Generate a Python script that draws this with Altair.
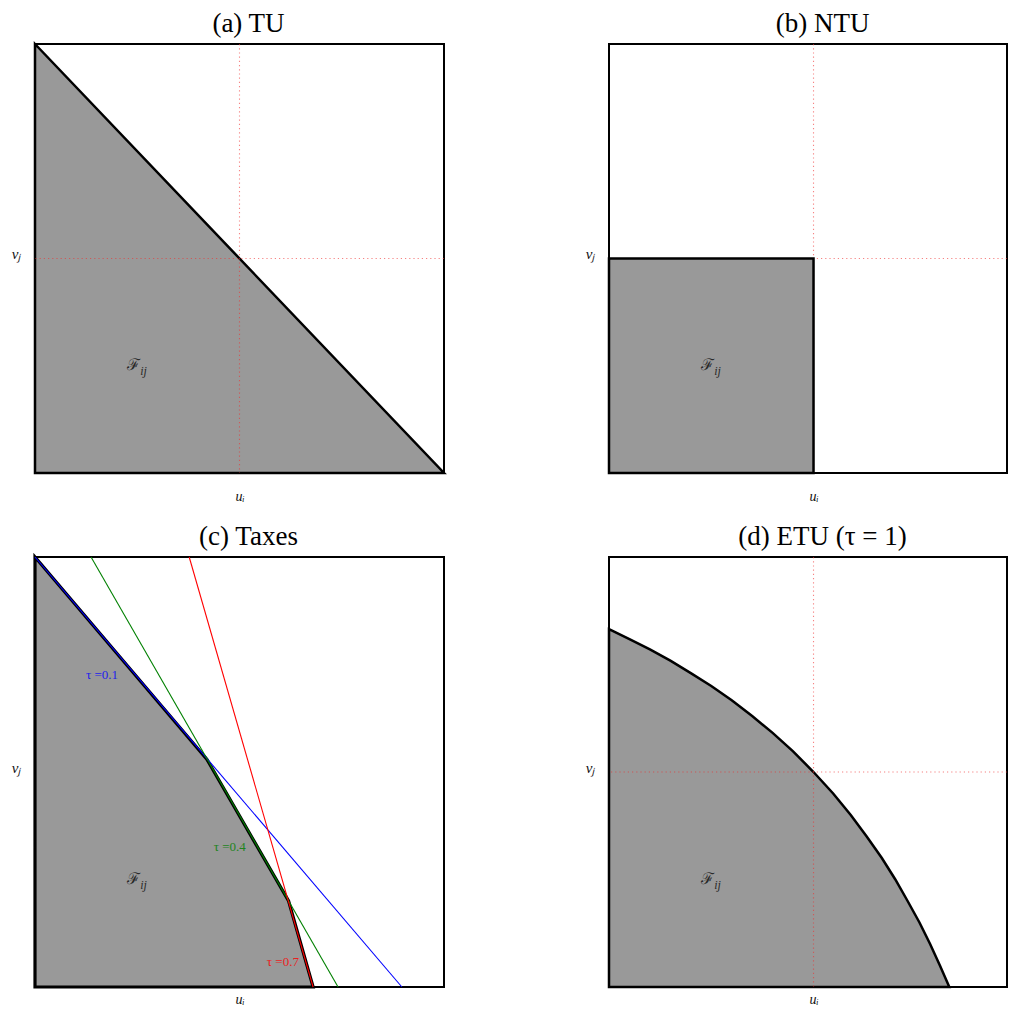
import altair as alt
import pandas as pd

# ---------------- data ----------------
titles = ["(a) TU", "(b) NTU", "(c) Taxes", "(d) ETU (τ = 1)"]

# (a) TU frontier
tu_u = [0.0, 1.0]
tu_v = [1.0, 0.0]

# (b) NTU feasible box
ntu_u = [0.0, 0.5]
ntu_v = [0.5, 0.5]

# (c) Taxes: kinked frontier and the three tax lines
tax_u = [0.0, 0.42, 0.62, 0.68]
tax_v = [1.0, 0.53, 0.20, 0.0]
tau_names = ["τ =0.1", "τ =0.4", "τ =0.7"]
tau_colors = ["#0000ff", "#008000", "#ff0000"]
tau_u_top = [0.0, 0.137, 0.377]
tau_v_top = [1.0, 1.0, 1.0]
tau_u_bottom = [0.897, 0.741, 0.680]
tau_v_bottom = [0.0, 0.0, 0.0]
tau_label_u = [0.164, 0.476, 0.606]
tau_label_v = [0.725, 0.326, 0.058]

# (d) ETU frontier
etu_u = [0.00, 0.05, 0.10, 0.15, 0.20, 0.25, 0.30, 0.35, 0.40, 0.45, 0.50,
         0.548, 0.591, 0.630, 0.667, 0.700, 0.730, 0.759, 0.785, 0.809, 0.832]
etu_v = [0.832, 0.809, 0.785, 0.759, 0.730, 0.700, 0.667, 0.630, 0.591, 0.548, 0.50,
         0.45, 0.40, 0.35, 0.30, 0.25, 0.20, 0.15, 0.10, 0.05, 0.00]

# reference point (dotted guides) and label positions
ref_u = [0.5]
ref_v = [0.5]
f_u = [0.25]
f_v = [0.25]
title_u = 0.5

GRAY = "#999999"
SERIF = "Liberation Serif"

LEFT_W = 409      # left-column panels
RIGHT_W = 398     # right-column panels (right edge is cut off in the reference)
RIGHT_XMAX = 0.973


def make_enc(xmax, xpad):
    xscale = alt.Scale(domain=[0, xmax], nice=False, zero=False)
    yscale = alt.Scale(domain=[0, 1], nice=False, zero=False)
    xaxis = alt.Axis(values=[0.5], labelExpr="'uᵢ'", ticks=False, domain=False, grid=False,
                     title=None, labelPadding=xpad, labelFont=SERIF,
                     labelFontStyle="italic", labelFontSize=14, labelColor="#111111")
    yaxis = alt.Axis(values=[0.5], labelExpr="'vⱼ'", ticks=False, domain=False, grid=False,
                     title=None, labelPadding=14, labelFont=SERIF,
                     labelFontStyle="italic", labelFontSize=15, labelColor="#111111",
                     labelAngle=0, labelOffset=-5)

    def X(f="u"):
        return alt.X(f"{f}:Q", scale=xscale, axis=xaxis)

    def Y(f="v"):
        return alt.Y(f"{f}:Q", scale=yscale, axis=yaxis)
    return X, Y


def area(enc, us, vs, sw=2.5):
    X, Y = enc
    df = pd.DataFrame({"u": us, "v": vs})
    return alt.Chart(df).mark_area(color=GRAY, stroke="black", strokeWidth=sw,
                                   fillOpacity=1).encode(x=X(), y=Y())


def guides(enc):
    X, Y = enc
    vdf = pd.DataFrame({"u": ref_u})
    hdf = pd.DataFrame({"v": ref_v})
    style = dict(color="#f03030", opacity=0.6, strokeDash=[1.2, 3], strokeWidth=1.1)
    v = alt.Chart(vdf).mark_rule(**style).encode(x=X())
    h = alt.Chart(hdf).mark_rule(**style).encode(y=Y())
    return v + h


def flabel(enc):
    X, Y = enc
    df = pd.DataFrame({"u": f_u, "v": f_v})
    f = alt.Chart(df).mark_text(text="ℱ", font="DejaVu Serif", fontSize=16,
                                align="right", baseline="middle", dx=3, dy=-1,
                                color="#2a2a2a").encode(x=X(), y=Y())
    ij = alt.Chart(df).mark_text(text="ij", font=SERIF, fontStyle="italic", fontSize=12,
                                 align="left", baseline="middle", dx=3, dy=5,
                                 color="#2a2a2a").encode(x=X(), y=Y())
    return f + ij


def title_mark(enc, t):
    X, Y = enc
    df = pd.DataFrame({"u": [title_u], "t": [t]})
    return alt.Chart(df).mark_text(font=SERIF, fontSize=27, color="black",
                                   align="center", baseline="alphabetic", dx=9).encode(
        x=X(), y=alt.value(-12), text="t:N")


enc_a = make_enc(1.0, 16)
enc_b = make_enc(RIGHT_XMAX, 16)
enc_c = make_enc(1.0, 5)
enc_d = make_enc(RIGHT_XMAX, 5)

# (a)
pa = alt.layer(area(enc_a, tu_u, tu_v), guides(enc_a), flabel(enc_a),
               title_mark(enc_a, titles[0])).properties(width=LEFT_W, height=429)

# (b)
pb = alt.layer(guides(enc_b), area(enc_b, ntu_u, ntu_v), flabel(enc_b),
               title_mark(enc_b, titles[1])).properties(width=RIGHT_W, height=429)

# (c)
Xc, Yc = enc_c
lines_df = pd.DataFrame({"u": tau_u_top, "v": tau_v_top, "u2": tau_u_bottom,
                         "v2": tau_v_bottom, "tau": tau_names})
lab_df = pd.DataFrame({"u": tau_label_u, "v": tau_label_v, "tau": tau_names})
cscale = alt.Scale(domain=tau_names, range=tau_colors)
tax_lines = alt.Chart(lines_df).mark_rule(strokeWidth=1.1).encode(
    x=Xc(), y=Yc(), x2="u2:Q", y2="v2:Q",
    color=alt.Color("tau:N", scale=cscale, legend=None))
tax_labels = alt.Chart(lab_df).mark_text(font=SERIF, fontSize=13, opacity=0.8,
                                         baseline="middle").encode(
    x=Xc(), y=Yc(), text="tau:N", color=alt.Color("tau:N", scale=cscale, legend=None))
pc = alt.layer(area(enc_c, tax_u, tax_v, 3.2), tax_lines, tax_labels,
               flabel(enc_c), title_mark(enc_c, titles[2])).properties(
    width=LEFT_W, height=430)

# (d)
pd_ = alt.layer(area(enc_d, etu_u, etu_v), guides(enc_d), flabel(enc_d),
                title_mark(enc_d, titles[3])).properties(width=RIGHT_W, height=430)

chart = alt.concat(pa, pb, pc, pd_, columns=2, spacing={"row": 84, "column": 165},
                   bounds="flush").properties(
    padding={"left": 2, "top": 1, "right": 0, "bottom": 0}, background="white"
).configure_view(stroke="black", strokeWidth=2)

chart.save("out.html", embed_options={"renderer": "svg", "actions": False})
